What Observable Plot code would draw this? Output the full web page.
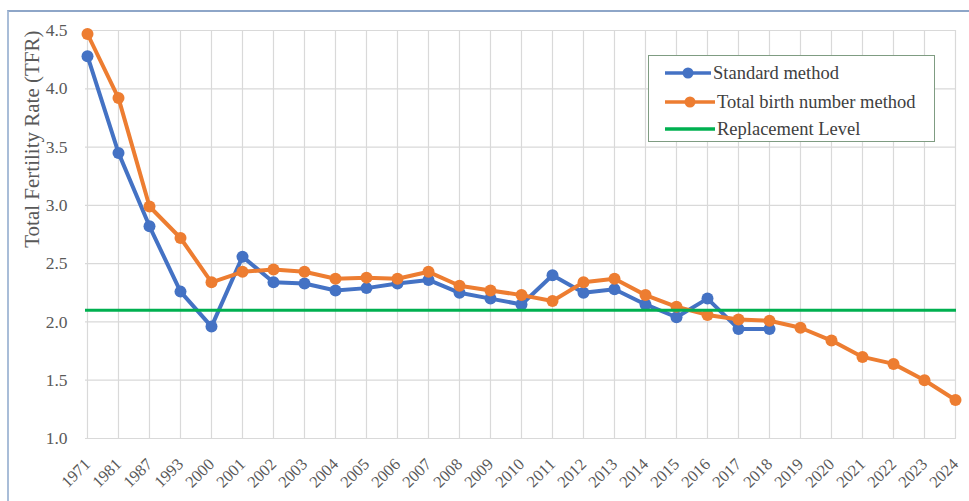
<!DOCTYPE html>
<html>
<head>
<meta charset="utf-8">
<script src="https://cdn.jsdelivr.net/npm/d3@7"></script>
<script src="https://cdn.jsdelivr.net/npm/@observablehq/plot@0.6"></script>
<style>
  html, body { margin: 0; padding: 0; background: #fff; }
  #wrap { position: relative; width: 969px; height: 501px; overflow: hidden; }
  #frame { position: absolute; left: 7px; top: 10px; width: 970px; height: 500px;
           border-top: 2px solid #8ea6c8; border-left: 2px solid #a9bdd8; box-sizing: border-box; pointer-events: none; }
  #legend { position: absolute; left: 648px; top: 55px; width: 287px; height: 87px; box-sizing: border-box;
            border: 1.5px solid #7f9c82; background: #fff;
            font-family: "Liberation Serif", serif; font-size: 18.5px; color: #404040; }
  .item { position: absolute; left: 0; height: 22px; display: flex; align-items: center; white-space: nowrap; }
  .item svg { display: block; }
</style>
</head>
<body>
<div id="wrap">
  <div id="chart"></div>
  <div id="frame"></div>
  <div id="legend"></div>
</div>
<script>
const years = ["1971","1981","1987","1993","2000","2001","2002","2003","2004","2005","2006","2007","2008","2009","2010","2011","2012","2013","2014","2015","2016","2017","2018","2019","2020","2021","2022","2023","2024"];
const standardMethod = [4.28,3.45,2.82,2.26,1.96,2.56,2.34,2.33,2.27,2.29,2.33,2.36,2.25,2.20,2.15,2.40,2.25,2.28,2.15,2.04,2.20,1.94,1.94];
const totalBirthMethod = [4.47,3.92,2.99,2.72,2.34,2.43,2.45,2.43,2.37,2.38,2.37,2.43,2.31,2.27,2.23,2.18,2.34,2.37,2.23,2.13,2.06,2.02,2.01,1.95,1.84,1.70,1.64,1.50,1.33];
const replacementLevel = 2.1;
const yTicks = [1.0,1.5,2.0,2.5,3.0,3.5,4.0,4.5];
const seriesNames = ["Standard method","Total birth number method","Replacement Level"];
const seriesColors = ["#4472c4","#ed7d31","#00b050"];
const yLabel = "Total Fertility Rate (TFR)";

const std = standardMethod.map((v,i) => ({year: years[i], tfr: v}));
const tbm = totalBirthMethod.map((v,i) => ({year: years[i], tfr: v}));

const chart = Plot.plot({
  width: 969, height: 501,
  marginLeft: 85, marginRight: 13, marginTop: 30, marginBottom: 63,
  style: {fontFamily: "Liberation Serif, serif", fontSize: "16.5px", color: "#595959", background: "transparent"},
  x: {type: "point", domain: years, padding: 0, label: null},
  y: {domain: [1, 4.5], label: null},
  marks: [
    Plot.gridX(years, {stroke: "#d9d9d9", strokeOpacity: 1, strokeWidth: 1.2}),
    Plot.gridY(yTicks, {stroke: "#d9d9d9", strokeOpacity: 1, strokeWidth: 1.2}),
    Plot.axisX(years, {tickRotate: -45, tickSize: 0, tickPadding: 14, dy: 9, fontSize: 16.5, fill: "#595959", label: null}),
    Plot.axisY(yTicks, {tickFormat: d3.format(".1f"), tickSize: 0, tickPadding: 18, fontSize: 17.5, fill: "#595959", label: null}),
    Plot.line(std, {x: "year", y: "tfr", stroke: seriesColors[0], strokeWidth: 4}),
    Plot.dot(std, {x: "year", y: "tfr", fill: seriesColors[0], r: 6}),
    Plot.line(tbm, {x: "year", y: "tfr", stroke: seriesColors[1], strokeWidth: 4}),
    Plot.dot(tbm, {x: "year", y: "tfr", fill: seriesColors[1], r: 6}),
    Plot.ruleY([replacementLevel], {stroke: seriesColors[2], strokeWidth: 3}),
    Plot.text([yLabel], {text: d => d, frameAnchor: "top-left", rotate: -90, textAnchor: "end",
      dx: -61, dy: 0, fontSize: 21, fill: "#595959"})
  ]
});
document.getElementById("chart").appendChild(chart);

// legend
const legend = document.getElementById("legend");
const tops = [6, 35, 62];
const textLeft = [64, 68, 68];
seriesNames.forEach((name, i) => {
  const item = document.createElement("div");
  item.className = "item";
  item.style.top = tops[i] + "px";
  const hasDot = i < 2;
  item.innerHTML = `<svg width="${textLeft[i]}" height="22"><line x1="16" x2="${textLeft[i]-2}" y1="11" y2="11" stroke="${seriesColors[i]}" stroke-width="3.5"/>` +
    (hasDot ? `<circle cx="${(16 + textLeft[i]-2)/2}" cy="11" r="5.5" fill="${seriesColors[i]}"/>` : "") +
    `</svg><span>${name}</span>`;
  legend.appendChild(item);
});
</script>
</body>
</html>
